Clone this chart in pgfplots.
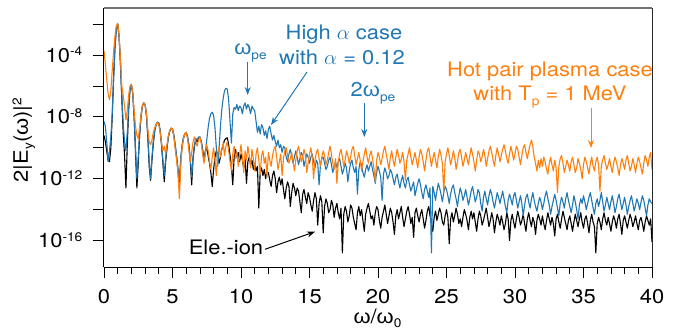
\documentclass[border=0pt]{standalone}
\usepackage{fontspec}
\setmainfont[FakeStretch=1.1]{TeX Gyre Heros}
\newfontfamily\grk[FakeStretch=1.1]{Liberation Sans}
\usepackage{pgfplots}
\pgfplotsset{compat=1.18}
\usepackage{pgfplotstable}
\usetikzlibrary{arrows.meta}
\definecolor{cblue}{RGB}{31,119,180}
\definecolor{corange}{RGB}{255,127,14}
\definecolor{topgray}{RGB}{115,115,115}
\newcommand\bigf{\fontsize{20}{23}\selectfont}
\newcommand\om{{\grk ω}}
\newcommand\sub[1]{\raisebox{-4.5bp}{\fontsize{12.5}{13}\selectfont #1}}
\newcommand\sups[1]{\raisebox{6.5bp}{\fontsize{12.5}{13}\selectfont #1}}

% columns: x, log10 of spectrum for ele.-ion (k), high alpha (b), hot pair plasma (o)
\pgfplotstableread{
x k b o
0.0 -9.2 -8.3 -3.7
0.1 -9.6 -8.6 -4.6
0.2 -10.2 -9.6 -5.6
0.3 -10.8 -10.9 -6.5
0.4 -10.9 -10.2 -6.9
0.5 -10.0 -9.3 -6.3
0.6 -8.0 -7.8 -5.0
0.7 -5.5 -5.5 -3.8
0.8 -3.5 -3.5 -2.8
0.9 -2.3 -2.3 -2.1
1.0 -2.0 -2.0 -1.95
1.1 -2.8 -2.8 -2.7
1.2 -4.5 -4.5 -4.2
1.3 -6.8 -6.6 -6.0
1.4 -9.0 -8.4 -6.6
1.5 -10.5 -9.6 -7.3
1.6 -12.6 -10.2 -8.2
1.7 -9.8 -9.0 -7.6
1.8 -7.5 -7.4 -6.6
1.9 -6.2 -6.2 -6.0
2.0 -5.9 -5.9 -5.9
2.1 -6.5 -6.5 -6.4
2.2 -8.0 -8.0 -7.6
2.3 -10.3 -10.0 -8.6
2.4 -12.6 -12.0 -9.2
2.5 -11.0 -10.6 -9.4
2.6 -9.2 -9.1 -8.7
2.7 -8.0 -8.0 -7.9
2.8 -7.3 -7.3 -7.3
2.9 -7.1 -7.1 -7.1
3.0 -7.2 -7.2 -7.2
3.1 -7.9 -7.9 -7.8
3.2 -9.3 -9.2 -8.8
3.3 -11.2 -10.9 -9.6
3.4 -12.1 -12.0 -9.8
3.5 -10.8 -10.6 -9.5
3.6 -9.7 -9.6 -9.0
3.7 -8.9 -8.9 -8.7
3.8 -8.5 -8.5 -8.5
3.9 -8.35 -8.35 -8.35
4.0 -8.4 -8.4 -8.5
4.1 -8.9 -8.9 -9.0
4.2 -9.8 -9.7 -9.7
4.3 -11.0 -10.8 -10.2
4.4 -12.2 -11.8 -9.9
4.5 -10.9 -10.7 -10.4
4.6 -10.0 -9.9 -9.8
4.7 -9.3 -9.3 -9.2
4.8 -8.9 -8.9 -8.9
4.9 -8.75 -8.75 -8.7
5.0 -8.8 -8.8 -8.8
5.1 -9.2 -9.2 -9.3
5.2 -9.9 -9.8 -10.1
5.3 -10.6 -10.5 -10.8
5.4 -11.5 -11.3 -11.6
5.5 -12.6 -12.1 -13.3
5.6 -10.8 -10.7 -11.2
5.7 -9.9 -9.8 -10.0
5.8 -9.4 -9.3 -9.4
5.9 -9.1 -9.1 -9.1
6.0 -9.0 -9.0 -9.0
6.1 -9.3 -9.3 -9.4
6.2 -9.9 -9.8 -10.2
6.3 -10.9 -10.7 -10.9
6.4 -12.4 -11.9 -10.3
6.5 -10.7 -10.6 -9.6
6.6 -9.9 -9.8 -9.3
6.7 -9.5 -9.4 -9.6
6.8 -9.6 -9.5 -9.9
6.9 -9.4 -9.3 -9.5
7.0 -9.3 -9.3 -9.3
7.1 -9.6 -9.6 -9.7
7.2 -10.1 -10.2 -10.4
7.3 -10.8 -10.8 -11.0
7.4 -10.2 -10.3 -10.4
7.5 -10.0 -9.5 -9.8
7.6 -10.5 -8.7 -10.2
7.7 -11.0 -8.1 -10.9
7.8 -11.6 -7.8 -11.4
7.9 -12.5 -7.7 -10.6
8.0 -11.4 -7.9 -10.0
8.1 -10.6 -8.7 -10.8
8.2 -10.2 -10.0 -11.8
8.3 -10.4 -11.2 -10.4
8.4 -11.0 -10.1 -9.9
8.5 -10.6 -8.6 -10.6
8.6 -10.1 -7.5 -10.1
8.7 -9.8 -6.8 -9.7
8.8 -9.5 -6.3 -10.5
8.9 -9.4 -6.15 -9.9
9.0 -9.35 -6.2 -9.6
9.1 -9.8 -6.9 -10.2
9.2 -10.5 -8.3 -10.9
9.3 -11.2 -9.7 -11.5
9.4 -12.4 -7.8 -10.4
9.5 -10.6 -7.4 -9.9
9.6 -10.1 -7.5 -10.7
9.7 -10.6 -7.2 -10.3
9.8 -10.3 -7.6 -11.2
9.9 -10.9 -7.3 -10.5
10.0 -10.4 -7.4 -9.8
10.1 -10.8 -7.8 -10.6
10.2 -11.3 -7.3 -11.6
10.3 -10.7 -7.1 -10.2
10.4 -12.3 -7.5 -10.8
10.5 -10.9 -7.2 -9.9
10.6 -10.6 -7.4 -10.5
10.7 -11.1 -7.8 -11.3
10.8 -10.8 -7.3 -10.1
10.9 -11.4 -7.5 -10.7
11.0 -11.0 -7.6 -11.5
11.1 -11.5 -8.3 -10.4
11.2 -11.2 -9.0 -10.0
11.3 -13.9 -8.6 -10.8
11.4 -11.6 -9.1 -11.7
11.5 -11.3 -8.5 -10.5
11.6 -11.8 -8.7 -10.2
11.7 -11.4 -9.2 -11.0
11.8 -12.0 -8.9 -10.6
11.9 -11.6 -9.4 -11.9
12.0 -11.6 -8.8 -10.3
12.1 -12.1 -8.6 -10.8
12.2 -12.5 -9.1 -11.2
12.3 -11.8 -9.5 -10.5
12.4 -11.5 -9.2 -10.1
12.5 -12.0 -9.6 -9.9
12.6 -12.9 -9.9 -10.6
12.7 -12.2 -9.5 -11.4
12.8 -11.9 -10.0 -10.9
12.9 -12.4 -9.8 -10.4
13.0 -12.0 -10.3 -11.8
13.1 -12.7 -9.9 -10.7
13.2 -13.3 -10.0 -10.2
13.3 -12.6 -10.6 -10.0
13.4 -12.2 -10.9 -10.5
13.5 -12.5 -10.4 -11.0
13.6 -13.8 -10.1 -10.7
13.7 -12.9 -10.5 -10.3
13.8 -12.3 -11.0 -10.9
13.9 -12.6 -10.6 -11.5
14.0 -13.1 -10.2 -10.8
14.1 -12.6 -10.6 -10.2
14.2 -12.8 -11.1 -9.9
14.3 -13.5 -10.7 -10.4
14.4 -14.2 -10.3 -10.9
14.5 -13.0 -10.5 -10.6
14.6 -12.7 -11.2 -10.1
14.7 -13.2 -10.8 -10.5
14.8 -13.6 -10.4 -11.6
14.9 -12.9 -10.6 -11.0
15.0 -13.2 -11.0 -10.4
15.1 -13.7 -10.6 -10.0
15.2 -14.1 -10.4 -10.6
15.3 -13.4 -10.9 -12.0
15.4 -12.9 -11.3 -10.8
15.5 -13.3 -10.8 -10.3
15.6 -15.0 -11.0 -10.1
15.7 -13.6 -12.4 -10.7
15.8 -13.1 -11.1 -11.2
15.9 -13.5 -10.7 -10.6
16.0 -15.5 -10.6 -10.2
16.1 -13.8 -11.0 -10.5
16.2 -13.3 -11.4 -11.1
16.3 -13.6 -11.2 -10.8
16.4 -14.2 -10.8 -10.3
16.5 -14.0 -10.6 -9.9
16.6 -13.4 -11.1 -10.4
16.7 -13.7 -11.6 -11.0
16.8 -14.5 -11.2 -11.4
16.9 -13.9 -10.9 -10.7
17.0 -13.6 -11.3 -12.3
17.1 -14.2 -10.9 -10.9
17.2 -14.6 -10.7 -10.4
17.3 -13.9 -11.2 -10.1
17.4 -16.8 -11.7 -10.6
17.5 -14.3 -11.4 -11.2
17.6 -13.8 -11.0 -10.8
17.7 -14.1 -11.3 -10.2
17.8 -14.8 -12.2 -10.5
17.9 -14.4 -11.5 -11.0
18.0 -13.7 -11.0 -10.6
18.1 -13.9 -10.8 -10.1
18.2 -14.5 -11.3 -9.9
18.3 -14.9 -11.6 -10.5
18.4 -15.3 -11.2 -11.1
18.5 -14.2 -13.0 -10.7
18.6 -13.8 -11.4 -10.3
18.7 -14.4 -10.9 -10.8
18.8 -14.0 -11.1 -11.5
18.9 -14.7 -11.6 -10.9
19.0 -15.4 -11.9 -10.4
19.1 -14.3 -11.4 -10.0
19.2 -13.9 -11.1 -10.6
19.3 -13.6 -11.5 -11.0
19.4 -14.1 -11.2 -10.5
19.5 -14.6 -10.9 -10.2
19.6 -14.4 -11.4 -10.7
19.7 -15.0 -11.8 -11.3
19.8 -14.2 -12.3 -12.2
19.9 -13.8 -11.6 -10.8
20.0 -14.0 -11.2 -10.3
20.1 -14.7 -11.5 -10.6
20.2 -15.2 -11.9 -11.1
20.3 -14.5 -13.4 -10.7
20.4 -14.1 -11.7 -10.2
20.5 -13.7 -11.3 -9.9
20.6 -14.3 -11.6 -10.4
20.7 -14.9 -12.0 -10.9
20.8 -14.4 -11.8 -11.4
20.9 -13.9 -11.4 -10.6
21.0 -14.2 -11.6 -10.2
21.1 -14.8 -12.0 -10.8
21.2 -15.6 -12.4 -11.2
21.3 -14.4 -11.9 -10.6
21.4 -14.0 -11.7 -10.1
21.5 -14.6 -12.2 -10.5
21.6 -14.2 -12.6 -11.0
21.7 -13.8 -12.1 -10.7
21.8 -14.5 -11.8 -10.3
21.9 -15.1 -12.3 -10.9
22.0 -14.6 -12.6 -12.1
22.1 -14.1 -12.1 -10.8
22.2 -13.8 -11.9 -10.4
22.3 -14.3 -12.4 -10.0
22.4 -14.9 -12.8 -10.6
22.5 -14.5 -12.5 -11.1
22.6 -15.8 -12.2 -10.7
22.7 -14.2 -13.1 -10.3
22.8 -13.9 -12.7 -10.8
22.9 -14.4 -12.3 -11.3
23.0 -14.8 -12.0 -10.6
23.1 -14.3 -12.4 -10.1
23.2 -14.0 -12.9 -10.4
23.3 -14.6 -13.3 -10.9
23.4 -15.2 -12.7 -11.5
23.5 -14.7 -12.4 -10.8
23.6 -14.1 -12.8 -10.2
23.7 -13.8 -13.2 -10.0
23.8 -14.4 -12.6 -10.6
23.9 -14.9 -16.8 -11.2
24.0 -15.4 -12.5 -10.7
24.1 -14.5 -12.9 -10.3
24.2 -14.1 -13.4 -10.8
24.3 -14.7 -12.8 -11.3
24.4 -14.3 -12.3 -10.6
24.5 -13.9 -12.6 -10.1
24.6 -14.2 -13.0 -10.5
24.7 -14.8 -13.5 -11.0
24.8 -15.0 -12.9 -12.9
24.9 -14.4 -12.5 -10.9
25.0 -14.0 -12.7 -10.4
25.1 -14.5 -13.1 -10.0
25.2 -16.2 -13.6 -10.5
25.3 -14.6 -13.0 -11.1
25.4 -14.2 -12.6 -10.7
25.5 -14.8 -12.4 -10.2
25.6 -14.4 -12.9 -10.6
25.7 -13.9 -13.3 -11.4
25.8 -14.3 -13.8 -10.9
25.9 -14.9 -13.1 -10.3
26.0 -14.6 -12.6 -10.1
26.1 -15.1 -12.9 -10.6
26.2 -14.5 -13.4 -11.2
26.3 -14.0 -13.1 -10.8
26.4 -14.3 -12.7 -10.3
26.5 -14.7 -13.2 -10.7
26.6 -15.3 -13.7 -11.1
26.7 -14.5 -13.3 -10.5
26.8 -14.1 -12.8 -10.0
26.9 -14.6 -12.5 -10.4
27.0 -14.2 -13.0 -10.9
27.1 -14.8 -13.5 -11.5
27.2 -15.4 -13.2 -10.8
27.3 -14.6 -12.7 -10.2
27.4 -14.1 -12.9 -10.4
27.5 -14.4 -13.6 -10.9
27.6 -15.0 -14.1 -10.6
27.7 -14.7 -13.2 -10.1
27.8 -14.3 -12.8 -10.5
27.9 -13.9 -13.3 -11.2
28.0 -14.5 -13.7 -10.7
28.1 -15.1 -13.1 -10.2
28.2 -14.7 -12.7 -9.9
28.3 -14.2 -13.0 -10.3
28.4 -14.6 -13.5 -10.8
28.5 -15.5 -13.9 -11.2
28.6 -14.8 -13.4 -10.5
28.7 -14.3 -12.9 -10.0
28.8 -14.6 -13.2 -10.4
28.9 -15.0 -13.6 -10.9
29.0 -14.4 -13.2 -10.5
29.1 -14.8 -12.8 -10.1
29.2 -15.3 -13.3 -9.8
29.3 -14.9 -13.8 -10.2
29.4 -14.2 -14.2 -10.7
29.5 -14.6 -13.4 -11.0
29.6 -16.0 -13.0 -10.4
29.7 -14.7 -13.3 -9.9
29.8 -14.3 -13.7 -10.3
29.9 -14.8 -13.1 -10.8
30.0 -15.2 -12.9 -10.4
30.1 -14.6 -13.4 -9.9
30.2 -14.1 -13.9 -10.1
30.3 -14.5 -13.5 -10.6
30.4 -15.0 -13.1 -11.1
30.5 -14.7 -13.6 -10.5
30.6 -14.3 -14.4 -10.0
30.7 -14.9 -13.7 -9.8
30.8 -15.4 -13.2 -10.3
30.9 -14.6 -13.0 -10.7
31.0 -14.2 -13.5 -10.2
31.1 -14.7 -13.9 -9.8
31.2 -15.1 -13.3 -9.5
31.3 -14.5 -12.9 -9.9
31.4 -14.8 -13.4 -10.6
31.5 -15.6 -13.8 -11.0
31.6 -14.7 -14.1 -11.5
31.7 -14.3 -13.6 -10.8
31.8 -14.6 -13.2 -11.3
31.9 -15.0 -13.5 -10.7
32.0 -14.4 -14.0 -11.2
32.1 -14.9 -13.6 -10.6
32.2 -15.3 -13.1 -10.9
32.3 -14.7 -12.8 -11.4
32.4 -14.2 -13.3 -11.7
32.5 -14.6 -13.7 -11.0
32.6 -15.0 -14.3 -10.6
32.7 -14.5 -13.8 -11.1
32.8 -14.9 -13.4 -11.5
32.9 -15.7 -13.0 -10.8
33.0 -14.6 -13.4 -11.3
33.1 -14.3 -13.9 -12.9
33.2 -14.8 -14.4 -11.2
33.3 -15.2 -13.6 -10.7
33.4 -14.6 -13.2 -10.5
33.5 -14.1 -13.5 -11.0
33.6 -14.5 -13.9 -11.6
33.7 -14.9 -13.3 -11.2
33.8 -15.3 -12.9 -10.8
33.9 -14.7 -13.4 -11.1
34.0 -14.4 -13.8 -11.5
34.1 -14.9 -14.2 -10.9
34.2 -15.4 -13.7 -10.6
34.3 -14.8 -13.1 -11.1
34.4 -14.3 -13.5 -11.6
34.5 -14.7 -14.0 -11.3
34.6 -15.1 -14.6 -10.7
34.7 -14.6 -13.7 -11.0
34.8 -14.2 -13.3 -11.4
34.9 -14.8 -13.6 -12.0
35.0 -15.2 -13.1 -11.1
35.1 -14.6 -13.5 -10.6
35.2 -14.4 -14.0 -10.9
35.3 -14.9 -13.6 -11.3
35.4 -15.5 -13.2 -11.7
35.5 -14.7 -12.9 -11.0
35.6 -14.3 -13.4 -10.6
35.7 -14.8 -13.9 -11.2
35.8 -15.1 -14.3 -11.5
35.9 -16.8 -13.6 -10.9
36.0 -14.9 -13.3 -10.6
36.1 -14.5 -13.8 -11.1
36.2 -14.8 -13.4 -12.8
36.3 -15.3 -12.9 -11.2
36.4 -14.6 -13.5 -10.8
36.5 -14.2 -14.1 -10.5
36.6 -14.7 -13.7 -11.0
36.7 -15.0 -13.2 -11.4
36.8 -14.5 -13.6 -11.1
36.9 -14.9 -14.0 -10.7
37.0 -15.4 -13.5 -11.2
37.1 -14.8 -13.1 -11.6
37.2 -14.4 -13.6 -11.0
37.3 -14.7 -14.2 -10.6
37.4 -15.2 -13.8 -10.9
37.5 -14.6 -13.3 -11.3
37.6 -14.3 -13.0 -11.8
37.7 -14.9 -13.5 -11.1
37.8 -15.6 -14.0 -10.7
37.9 -14.7 -13.6 -11.0
38.0 -14.4 -13.2 -11.4
38.1 -14.8 -13.7 -10.8
38.2 -15.2 -14.3 -10.5
38.3 -14.7 -13.8 -11.0
38.4 -14.3 -13.4 -11.5
38.5 -14.6 -13.1 -11.2
38.6 -15.1 -13.6 -10.7
38.7 -14.8 -14.1 -11.1
38.8 -14.4 -13.7 -11.6
38.9 -14.9 -13.3 -11.0
39.0 -15.3 -13.6 -10.6
39.1 -14.7 -14.0 -10.9
39.2 -14.5 -13.5 -11.3
39.3 -14.9 -13.1 -11.7
39.4 -15.4 -13.4 -11.0
39.5 -14.8 -13.9 -10.5
39.6 -14.4 -14.4 -10.8
39.7 -14.7 -13.7 -11.2
39.8 -15.0 -13.3 -10.6
39.9 -14.6 -13.5 -10.3
40.0 -16.1 -13.6 -11.4
}\spec

\begin{document}
\begin{tikzpicture}[font=\bigf, >={Stealth[length=8bp,width=6bp]}]
\useasboundingbox (-104bp,-65bp) rectangle (576bp,267bp);
\begin{axis}[
  at={(0,0)}, anchor=south west,
  scale only axis, width=548bp, height=259bp,
  xmin=0, xmax=40, ymode=log, ymin=1.95e-18, ymax=0.11,
  axis x line*=bottom, axis y line*=left,
  axis line style={line width=1bp, black},
  xtick={0,5,...,40}, xticklabels={0,5,10,15,20,25,30,35,40},
  minor x tick num=4,
  ytick={1e-16,1e-14,1e-12,1e-10,1e-8,1e-6,1e-4,1e-2},
  yticklabels={10\sups{-16},,10\sups{-12},,10\sups{-8},,10\sups{-4},},
  yminorticks=false,
  tick align=outside,
  major tick length=10.5bp, minor tick length=6.5bp,
  tick style={black, line width=0.8bp},
  tick label style={font=\bigf},
  yticklabel style={inner sep=0pt, anchor=base east, xshift=-11bp, yshift=-7bp},
  xticklabel style={inner sep=0pt, anchor=north, yshift=-12bp},
]
\addplot[black, line width=1.1bp, line join=round] table[x=x, y expr=10^(\thisrow{k})] {\spec};
\addplot[cblue, line width=1.1bp, line join=round] table[x=x, y expr=10^(\thisrow{b})] {\spec};
\addplot[corange, line width=1.1bp, line join=round] table[x=x, y expr=10^(\thisrow{o})] {\spec};
\end{axis}
\draw[topgray, line width=1.2bp] (0,259bp) -- (548bp,259bp);
\draw[black!85, line width=1bp] (548bp,259bp) -- (548bp,0);
% axis labels
\node[rotate=90, anchor=base] at (-76bp,127bp) {2|E\sub{y}(\om)|\sups{2}};
\node[anchor=base] at (273.5bp,-56bp) {\om/\om\sub{0}};
% annotations
\node[cblue, anchor=base] at (240bp,227bp) {High $\alpha$ case};
\node[cblue, anchor=base] at (238bp,202bp) {with $\alpha$ = 0.12};
\node[cblue, anchor=base] at (146.5bp,212bp) {\om\sub{pe}};
\draw[cblue, line width=1bp, ->] (143.7bp,205bp) -- (143.7bp,172bp);
\node[cblue, anchor=base] at (269bp,170bp) {2\om\sub{pe}};
\draw[cblue, line width=1bp, ->] (260.3bp,164bp) -- (260.3bp,130bp);
\draw[cblue, line width=1bp, ->] (203bp,195bp) -- (167bp,142bp);
\node[corange, anchor=base] at (446bp,190bp) {Hot pair plasma case};
\node[corange, anchor=base] at (446bp,166bp) {with T\sub{p} = 1 MeV};
\draw[corange, line width=1bp, ->] (487bp,159bp) -- (487bp,119bp);
\node[anchor=base] at (122bp,13bp) {Ele.-ion};
\draw[line width=1bp, ->] (161bp,17.7bp) -- (211bp,35.3bp);
\end{tikzpicture}
\end{document}
